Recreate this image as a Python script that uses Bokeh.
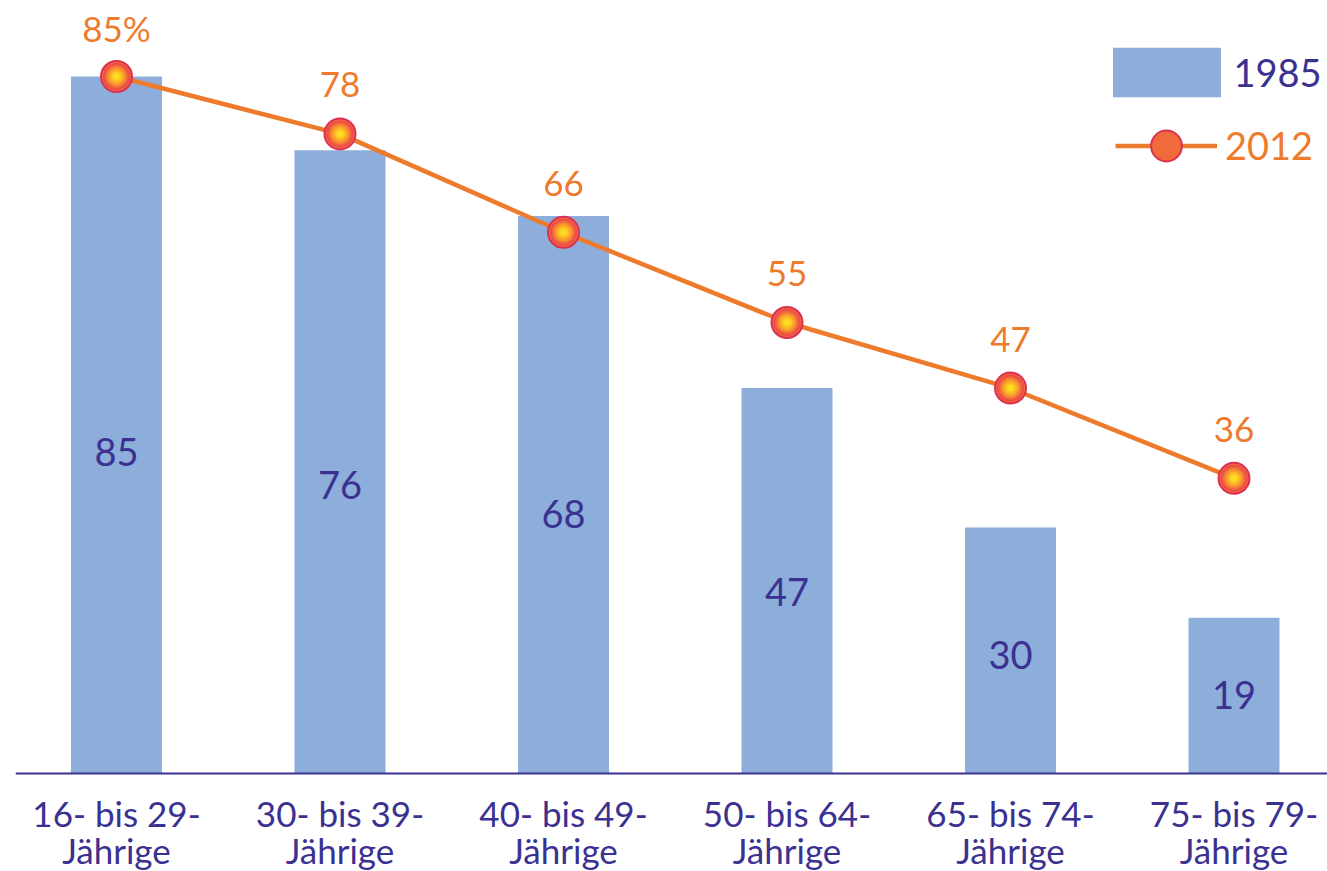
from bokeh.plotting import figure
from bokeh.models import ColumnDataSource, Range1d, Span, Legend, LegendItem
from bokeh.core.properties import value
from bokeh.embed import file_html
from bokeh.resources import INLINE

# ---- data ----
categories = ["16- bis 29-\nJährige", "30- bis 39-\nJährige", "40- bis 49-\nJährige",
              "50- bis 64-\nJährige", "65- bis 74-\nJährige", "75- bis 79-\nJährige"]
values_1985 = [85, 76, 68, 47, 30, 19]
values_2012 = [85, 78, 66, 55, 47, 36]
series_names = ["1985", "2012"]

NAVY = "#3a3190"
ORANGE = "#ee7b2c"
BAR = "#8dadda"
FONT = "Lato"

idx = list(range(len(categories)))
labels_2012 = [f"{v}%" if i == 0 else str(v) for i, v in enumerate(values_2012)]
src = ColumnDataSource(dict(
    x=idx, cat=categories, v85=values_1985, v12=values_2012,
    lab85=[str(v) for v in values_1985], lab12=labels_2012,
    ylab85=[v * 0.45 + 1 for v in values_1985],
    zero=[0] * len(idx),
))

p = figure(width=1327, height=871, output_backend="svg", toolbar_location=None,
           x_range=Range1d(-0.4519, 5.4183), y_range=Range1d(-11.95, 94.27),
           min_border_left=15, min_border_right=0, min_border_top=0, min_border_bottom=0)
p.axis.visible = False
p.grid.visible = False
p.outline_line_color = None
p.background_fill_color = "white"

bars = p.vbar(x="x", top="v85", width=0.407, bottom=0, source=src,
              fill_color=BAR, line_color=None)

baseline = Span(location=0, dimension="width", line_color=NAVY, line_width=2)
p.add_layout(baseline)

line = p.line(x="x", y="v12", source=src, line_color=ORANGE, line_width=4.5)

outer = p.scatter(x="x", y="v12", source=src, size=31, fill_color="#f06a3c",
                  line_color="#dc2f52", line_width=2)
layers = [(27, "#ec4a48"), (24, "#f16040"), (21, "#f47a36"), (18, "#f8952e"),
          (14, "#fbb027"), (10, "#fdc923"), (6, "#ffdc24")]
for s, c in layers:
    p.scatter(x="x", y="v12", source=src, size=s, fill_color=c, line_color=None)

# value labels
p.text(x="x", y="ylab85", text="lab85", source=src, text_color=NAVY,
       text_font=value(FONT), text_font_size="38px", text_align="center",
       text_baseline="middle")
p.text(x="x", y="v12", text="lab12", source=src, text_color=ORANGE,
       text_font=value(FONT), text_font_size="35px", text_align="center",
       text_baseline="middle", y_offset=-49)

# category labels
p.text(x="x", y="zero", text="cat", source=src, text_color=NAVY,
       text_font=value(FONT), text_font_size="35px", text_align="center",
       text_baseline="top", y_offset=18, text_line_height=0.9)

leg1 = Legend(items=[LegendItem(label=series_names[0], renderers=[bars])],
              location=(1083.5, 768.25), glyph_width=135, glyph_height=62,
              label_standoff=0, padding=0, margin=0, spacing=0,
              border_line_color=None, background_fill_alpha=0,
              label_text_font=FONT, label_text_font_size="38px",
              label_text_color=NAVY)
leg2 = Legend(items=[LegendItem(label=series_names[1], renderers=[line, outer])],
              location=(1100, 687.5), glyph_width=102, glyph_height=77,
              label_standoff=8, padding=0, margin=0, spacing=0,
              border_line_color=None, background_fill_alpha=0,
              label_text_font=FONT, label_text_font_size="38px",
              label_text_color=ORANGE)
p.add_layout(leg1)
p.add_layout(leg2)

open("out.html", "w").write(file_html(p, INLINE))
